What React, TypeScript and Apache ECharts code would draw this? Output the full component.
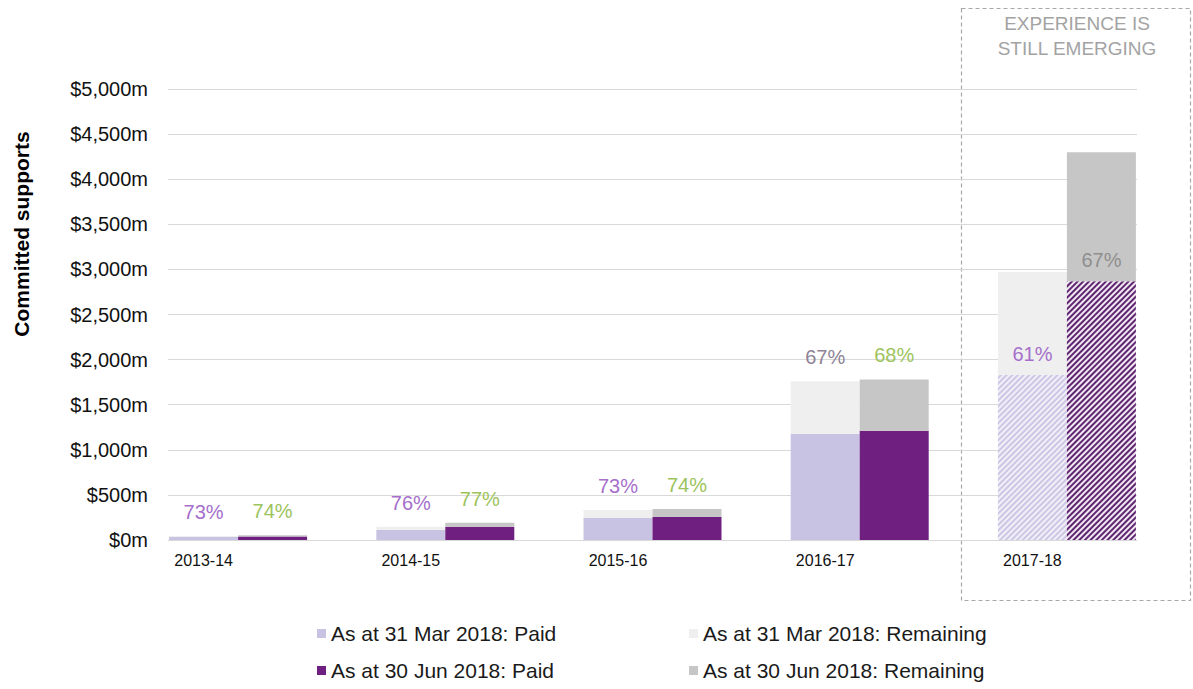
import React, { useEffect, useRef } from "react";
import * as echarts from "echarts";

const categories = ["2013-14", "2014-15", "2015-16", "2016-17", "2017-18"];
const marPaid = [32, 112, 243, 1175, 1830];
const marRemaining = [12, 36, 90, 585, 1140];
const junPaid = [39, 146, 255, 1210, 2870];
const junRemaining = [14, 44, 90, 570, 1430];
const marPct = ["73%", "76%", "73%", "67%", "61%"];
const junPct = ["74%", "77%", "74%", "68%", "67%"];
const marPctColor = ["#a56fcb", "#a56fcb", "#a56fcb", "#8e8396", "#a56fcb"];
const junPctColor = ["#9dc35c", "#9dc35c", "#9dc35c", "#9dc35c", "#8f8f8f"];
const yTicks = [0, 500, 1000, 1500, 2000, 2500, 3000, 3500, 4000, 4500, 5000];
const legendNames = [
  "As at 31 Mar 2018: Paid",
  "As at 31 Mar 2018: Remaining",
  "As at 30 Jun 2018: Paid",
  "As at 30 Jun 2018: Remaining",
];
const emergingIndex = 4;

const FONT = "'Liberation Sans', Arial, sans-serif";
const C_MAR_PAID = "#c9c3e3";
const C_MAR_REM = "#efefef";
const C_JUN_PAID = "#6e1f80";
const C_JUN_REM = "#c6c6c6";

function hatch(color: string, bg: string) {
  return {
    symbol: "rect",
    symbolSize: 1,
    color,
    backgroundColor: bg,
    dashArrayX: [1, 0],
    dashArrayY: [1.5, 1.4],
    rotation: -Math.PI / 4,
  };
}

export default function App() {
  const ref = useRef<HTMLDivElement>(null);
  useEffect(() => {
    document.body.style.margin = "0";
    const chart = echarts.init(ref.current!, undefined, { renderer: "svg" });
    const labelTop = (text: string, color: string, distance: number) => ({
      show: true,
      position: "top",
      distance,
      formatter: text,
      color,
      fontSize: 20,
      fontFamily: FONT,
    });

    const marPaidData = marPaid.map((v, i) =>
      i === emergingIndex
        ? { value: v, itemStyle: { color: "#f1eff7", decal: hatch("#cdc6e4", "#f1eff7") }, label: labelTop(marPct[i], marPctColor[i], 11) }
        : { value: v }
    );
    const junPaidData = junPaid.map((v, i) =>
      i === emergingIndex
        ? { value: v, itemStyle: { color: "#f2e8f4", decal: hatch("#5f2670", "#f2e8f4") }, label: labelTop(junPct[i], junPctColor[i], 11) }
        : { value: v }
    );
    const marRemData = marRemaining.map((v, i) =>
      i === emergingIndex ? { value: v } : { value: v, label: labelTop(marPct[i], marPctColor[i], 14) }
    );
    const junRemData = junRemaining.map((v, i) =>
      i === emergingIndex ? { value: v } : { value: v, label: labelTop(junPct[i], junPctColor[i], 14) }
    );

    const legendBase = {
      icon: "rect",
      itemWidth: 9,
      itemHeight: 9,
      selectedMode: false,
      textStyle: { fontSize: 21, color: "#1a1a1a", fontFamily: FONT },
    };

    chart.setOption({
      animation: false,
      backgroundColor: "#ffffff",
      textStyle: { fontFamily: FONT },
      grid: [
        { left: 134.5, right: 22.5, top: 89, bottom: 149 },
        { left: 168, right: 56, top: 89, bottom: 149 },
      ],
      xAxis: [
        {
          type: "category",
          gridIndex: 0,
          data: categories,
          axisLine: { show: false },
          axisTick: { show: false },
          axisLabel: {
            color: "#111",
            fontSize: 16,
            fontFamily: FONT,
            margin: 12,
            align: "center",
            padding: [0, 69, 0, 0],
          },
        },
        { type: "value", gridIndex: 1, show: false, min: 0, max: 1 },
      ],
      yAxis: [
        { type: "value", gridIndex: 0, min: 0, max: 5000, show: false, splitLine: { show: false } },
        {
          type: "value",
          gridIndex: 1,
          min: yTicks[0],
          max: yTicks[yTicks.length - 1],
          interval: yTicks[1] - yTicks[0],
          axisLine: { show: false },
          axisTick: { show: false },
          splitLine: { lineStyle: { color: "#d9d9d9", width: 1 } },
          axisLabel: {
            color: "#111",
            fontSize: 20,
            fontFamily: FONT,
            margin: 20,
            formatter: (v: number) => "$" + v.toLocaleString("en-US") + "m",
          },
        },
      ],
      legend: [
        { ...legendBase, data: [legendNames[0]], left: 312, top: 618 },
        { ...legendBase, data: [legendNames[1]], left: 684, top: 618 },
        { ...legendBase, data: [legendNames[2]], left: 312, top: 655 },
        { ...legendBase, data: [legendNames[3]], left: 684, top: 655 },
      ],
      graphic: [
        {
          type: "rect",
          shape: { x: 961.5, y: 8.5, width: 229, height: 592 },
          style: { fill: "none", stroke: "#a8a8a8", lineWidth: 1.2, lineDash: [4, 3] },
        },
        {
          type: "text",
          x: 1077,
          y: 23,
          style: {
            text: "EXPERIENCE IS",
            fill: "#a3a3a3",
            font: "19px " + FONT,
            textAlign: "center",
            textVerticalAlign: "middle",
          },
        },
        {
          type: "text",
          x: 1077,
          y: 48,
          style: {
            text: "STILL EMERGING",
            fill: "#a3a3a3",
            font: "19px " + FONT,
            textAlign: "center",
            textVerticalAlign: "middle",
          },
        },
        {
          type: "text",
          x: 21,
          y: 234,
          rotation: Math.PI / 2,
          style: {
            text: "Committed supports",
            fill: "#000",
            font: "bold 21px " + FONT,
            textAlign: "center",
            textVerticalAlign: "middle",
          },
        },
      ],
      series: [
        {
          name: legendNames[0],
          type: "bar",
          stack: "mar",
          xAxisIndex: 0,
          yAxisIndex: 0,
          barWidth: 69,
          barGap: "0%",
          itemStyle: { color: C_MAR_PAID },
          data: marPaidData,
        },
        {
          name: legendNames[1],
          type: "bar",
          stack: "mar",
          xAxisIndex: 0,
          yAxisIndex: 0,
          barWidth: 69,
          barGap: "0%",
          itemStyle: { color: C_MAR_REM },
          data: marRemData,
        },
        {
          name: legendNames[2],
          type: "bar",
          stack: "jun",
          xAxisIndex: 0,
          yAxisIndex: 0,
          barWidth: 69,
          barGap: "0%",
          itemStyle: { color: C_JUN_PAID },
          data: junPaidData,
        },
        {
          name: legendNames[3],
          type: "bar",
          stack: "jun",
          xAxisIndex: 0,
          yAxisIndex: 0,
          barWidth: 69,
          barGap: "0%",
          itemStyle: { color: C_JUN_REM },
          data: junRemData,
        },
      ],
    });
    return () => chart.dispose();
  }, []);
  return <div ref={ref} style={{ width: 1193, height: 689 }} />;
}
